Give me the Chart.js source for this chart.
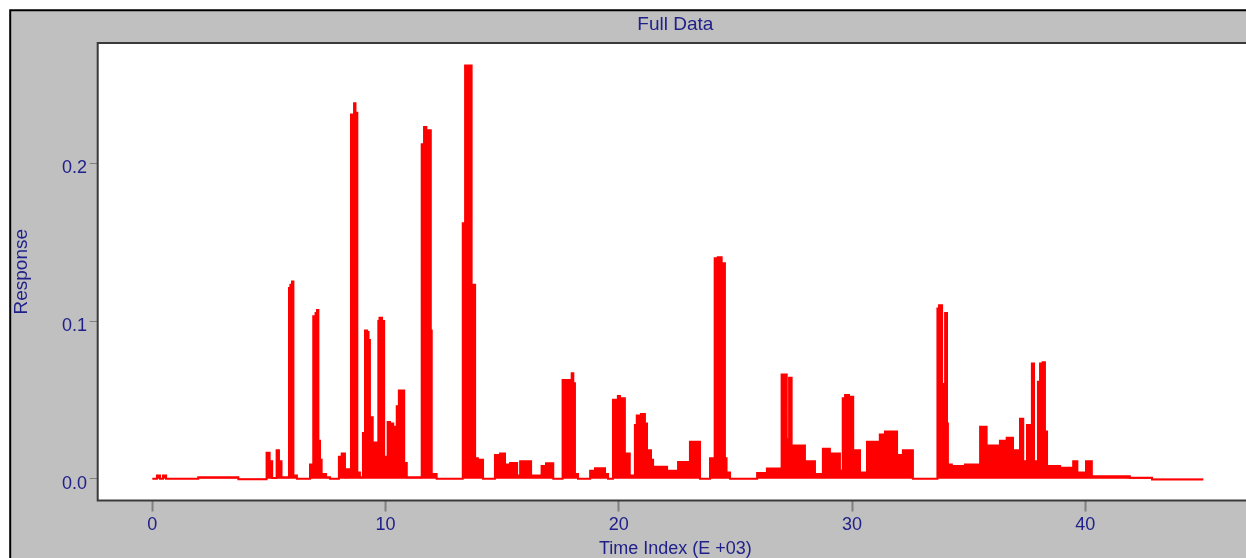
<!DOCTYPE html>
<html><head><meta charset="utf-8">
<script src="https://cdn.jsdelivr.net/npm/chart.js@4/dist/chart.umd.min.js"></script>
<style>
html,body{margin:0;padding:0;overflow:hidden;background:#fff;}
#wrap{position:absolute;left:0;top:0;width:1246px;height:558px;overflow:hidden;}
#c{position:absolute;left:0;top:0;}
</style></head><body>
<div id="wrap"><canvas id="c" width="1260" height="561"></canvas></div>
<script>
// Time index in thousands (start of each step) and the response held from that index
const timeK = [
0.00,0.20,0.33,0.46,0.59,1.97,3.69,4.90,5.03,5.14,5.33,5.43,5.54,5.86,5.92,5.99,6.05,6.20,
6.76,6.90,7.00,7.06,7.12,7.19,7.26,7.45,7.62,8.00,8.12,8.26,8.33,8.52,8.65,8.71,8.79,8.90,
9.03,9.12,9.21,9.27,9.33,9.45,9.69,9.74,9.85,9.94,10.09,10.19,10.33,10.48,10.57,10.80,10.91,
11.55,11.65,11.75,11.94,11.98,12.19,13.31,13.41,13.69,13.84,13.96,14.18,14.69,14.91,15.12,
15.34,15.64,15.77,16.24,16.69,16.88,17.19,17.59,17.74,17.79,17.91,17.98,18.05,18.12,18.25,
18.77,18.98,19.41,19.54,19.75,19.96,20.05,20.26,20.47,20.69,20.77,20.95,21.12,21.21,21.38,
21.47,21.55,22.07,22.54,23.05,23.48,23.91,24.11,24.24,24.41,24.55,24.62,24.77,25.93,26.35,
26.98,27.20,27.30,27.41,27.98,28.41,28.75,29.05,29.48,29.60,29.70,29.87,30.05,30.34,30.64,
31.19,31.41,31.93,32.18,32.61,33.66,33.73,33.86,33.99,34.07,34.11,34.28,34.84,35.49,35.77,
36.34,36.63,36.90,37.20,37.34,37.50,37.71,37.80,37.97,38.06,38.14,38.17,38.27,38.36,38.92,
39.48,39.66,40.03,40.28,41.91,42.86,45.06
];
const response = [
0,0.002,0,0.002,0,0.001,-0.0004,0.0165,0.011,0.0005,0.018,0.011,0.001,0.121,0.123,0.125,0.002,0,
0.009,0.103,0.105,0.107,0.024,0.012,0.003,0.001,0,0.014,0.016,0.001,0.006,0.231,0.238,0.232,0.004,0.001,
0.029,0.094,0.093,0.088,0.039,0.023,0.1,0.102,0.1,0.014,0.036,0.035,0.033,0.046,0.056,0.01,0.001,
0.212,0.223,0.221,0.094,0.003,0,0.162,0.262,0.123,0.013,0.012,0,0.015,0.016,0.009,
0.01,0.002,0.011,0.002,0.008,0.0098,0,0.0626,0.02,0.0626,0.03,0.0668,0.0605,0.003,0,
0.005,0.0066,0.003,0,0.05,0.0524,0.051,0.016,0.002,0.034,0.04,0.041,0.035,0.018,0.012,
0.002,0.0076,0.005,0.0106,0.0235,0,0.013,0.1398,0.1404,0.1366,0.013,0.004,0,0.0036,0.0065,
0.066,0.025,0.064,0.021,0.011,0.003,0.019,0.016,0.005,0.051,0.053,0.052,0.018,0.004,0.0235,
0.028,0.03,0.015,0.018,0,0.108,0.11,0.06,0.105,0.035,0.009,0.008,0.009,0.033,0.021,
0.024,0.026,0.018,0.038,0.011,0.034,0.073,0.011,0.0615,0.073,0.02,0.0738,0.03,0.008,0.007,
0.011,0.004,0.011,0.0015,0.0006,-0.0005,-0.0005
];
const xTickValues = [0, 10, 20, 30, 40];
const xTickLabels = ['0', '10', '20', '30', '40'];
const yTickValues = [0, 0.1, 0.2];
const yTickLabels = ['0.0', '0.1', '0.2'];

const navy = '#20208a';
const fam = "'Liberation Sans', Arial, sans-serif";
const tickFont = {family: fam, size: 18, lineHeight: 1.2, weight: 'normal'};
const xTitleFont = {family: fam, size: 18, lineHeight: 1.2, weight: 'normal'};
const bigFont = {family: fam, size: 19, lineHeight: 1.2, weight: 'normal'};

const framePlugin = {
  id: 'frame',
  beforeDraw(chart) {
    const {ctx, width, height, chartArea: a} = chart;
    ctx.save();
    ctx.fillStyle = '#ffffff'; ctx.fillRect(0, 0, width, height);
    ctx.fillStyle = '#c0c0c0'; ctx.fillRect(10, 10, width, height);
    ctx.strokeStyle = '#000000'; ctx.lineWidth = 2;
    ctx.beginPath(); ctx.moveTo(10.2, height + 5); ctx.lineTo(10.2, 10.2); ctx.lineTo(width + 5, 10.2); ctx.stroke();
    ctx.fillStyle = '#ffffff'; ctx.fillRect(a.left, a.top, a.right - a.left, a.bottom - a.top);
    ctx.restore();
  },
  afterDraw(chart) {
    const {ctx, chartArea: a} = chart;
    ctx.save();
    ctx.strokeStyle = '#3a3a3a'; ctx.lineWidth = 2;
    ctx.strokeRect(a.left, a.top, a.right - a.left, a.bottom - a.top);
    ctx.restore();
  }
};

new Chart(document.getElementById('c'), {
  type: 'line',
  data: {
    datasets: [{
      data: timeK.map((x, i) => ({x: x, y: response[i]})),
      borderColor: '#ff0000',
      backgroundColor: '#ff0000',
      borderWidth: 2,
      pointRadius: 0,
      stepped: true,
      fill: 'origin'
    }]
  },
  options: {
    responsive: false,
    animation: false,
    devicePixelRatio: 1,
    layout: {padding: {left: 0, right: 7, top: 0, bottom: 0}},
    plugins: {
      legend: {display: false},
      tooltip: {enabled: false},
      title: {display: true, text: 'Full Data', color: navy, font: bigFont, fullSize: false,
              padding: {top: 13.6, bottom: 6.6}}
    },
    scales: {
      x: {
        type: 'linear', min: -2.341, max: 47.19,
        afterBuildTicks(s) { s.ticks = xTickValues.map(v => ({value: v})); },
        afterFit(s) { s.height = 60.5; },
        grid: {drawOnChartArea: false, drawTicks: true, tickLength: 11, tickColor: '#808080', tickWidth: 2},
        border: {display: false},
        ticks: {color: navy, font: tickFont, padding: 3, maxRotation: 0, autoSkip: false,
                callback: (v, i) => xTickLabels[i]},
        title: {display: true, text: 'Time Index (E +03)', color: navy, font: xTitleFont, padding: {top: 0, bottom: 1}}
      },
      y: {
        type: 'linear', min: -0.01382, max: 0.27628,
        afterBuildTicks(s) { s.ticks = yTickValues.map(v => ({value: v})); },
        afterFit(s) { s.width = 97.7; },
        grid: {drawOnChartArea: false, drawTicks: true, tickLength: 8, tickColor: '#808080', tickWidth: 1},
        border: {display: false},
        ticks: {color: navy, font: tickFont, padding: 2.7, labelOffset: 5, autoSkip: false,
                callback: (v, i) => yTickLabels[i]},
        title: {display: true, text: 'Response', color: navy, font: bigFont, padding: {top: 10.1, bottom: 0}}
      }
    }
  },
  plugins: [framePlugin]
});
</script>
</body></html>
